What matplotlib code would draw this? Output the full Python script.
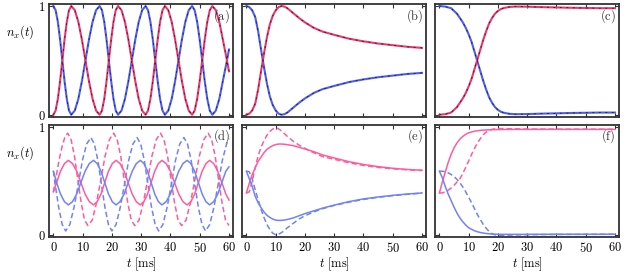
import matplotlib
matplotlib.use('Agg')
import matplotlib.pyplot as plt

plt.rcParams['mathtext.fontset'] = 'cm'
plt.rcParams['font.family'] = 'serif'

RED = '#e8386e'
BLUE = '#4d5ef0'
PINK = '#ff5c9d'
LBLUE = '#7282f7'

# ---- (a) oscillation, exact (solid) and approx (black dashes)
t_a = [0, 0.76, 1.53, 2.29, 3.05, 3.81, 4.58, 5.34, 6.1,
       7.31, 8.53, 9.74, 10.95, 12.16, 13.38, 14.59, 15.8,
       16.59, 17.38, 18.16, 18.95, 19.74, 20.53, 21.31, 22.1,
       23.28, 24.45, 25.63, 26.8, 27.98, 29.15, 30.33, 31.5,
       32.33, 33.15, 33.98, 34.8, 35.63, 36.45, 37.28, 38.1,
       39.26, 40.43, 41.59, 42.75, 43.91, 45.08, 46.24, 47.4,
       48.26, 49.13, 49.99, 50.85, 51.71, 52.58, 53.44, 54.3,
       55.5, 56.7, 57.9, 59.1, 60]
blue_a = [1, .962, .854, .691, .5, .309, .146, .038, 0,
          .038, .146, .309, .5, .691, .854, .962, 1,
          .962, .854, .691, .5, .309, .146, .038, 0,
          .038, .146, .309, .5, .691, .854, .962, 1,
          .962, .854, .691, .5, .309, .146, .038, 0,
          .038, .146, .309, .5, .691, .854, .962, 1,
          .962, .854, .691, .5, .309, .146, .038, 0,
          .038, .146, .309, .47, .6]
red_a = [0, .038, .146, .309, .5, .691, .854, .962, 1,
         .962, .854, .691, .5, .309, .146, .038, 0,
         .038, .146, .309, .5, .691, .854, .962, 1,
         .962, .854, .691, .5, .309, .146, .038, 0,
         .038, .146, .309, .5, .691, .854, .962, 1,
         .962, .854, .691, .5, .309, .146, .038, 0,
         .038, .146, .309, .5, .691, .854, .962, 1,
         .962, .854, .691, .53, .4]

# ---- (b)
t_b = [0, 1, 2, 3, 4, 5, 6, 7, 8, 9, 10, 11, 12, 13, 14, 16, 18, 20,
       23, 26, 30, 35, 40, 45, 50, 55, 60]
blue_b = [1.0, .99, .96, .9, .77, .6, .44, .29, .17, .09, .04, .01, 0.0,
          .005, .02, .065, .11, .15, .2, .235, .265, .3, .325, .345, .36,
          .375, .385]
red_b = [0.0, .01, .04, .1, .23, .4, .56, .71, .83, .91, .96, .99, 1.0,
         .995, .98, .935, .89, .85, .8, .765, .735, .7, .675, .655, .64,
         .625, .615]

# ---- (c)
t_c = [0, 2, 4, 6, 8, 9, 10, 11, 12, 13, 14, 15, 16, 17, 18, 19, 20,
       21, 22, 24, 26, 30, 35, 40, 45, 50, 55, 60]
blue_c = [1.0, .995, .98, .93, .85, .8, .74, .67, .58, .49, .4, .31, .23,
          .16, .11, .07, .045, .028, .018, .008, .005, .006, .01, .013,
          .016, .018, .02, .02]
red_c = [0.0, .005, .02, .07, .15, .2, .26, .33, .42, .51, .6, .69, .77,
         .84, .89, .93, .955, .972, .982, .992, .995, .994, .99, .987,
         .984, .982, .98, .98]

# ---- (d)
t_d_rd = [0, 1, 2, 3, 4, 4.9,
          6.05, 7.2, 8.35, 9.5, 10.65, 11.8,
          13.27, 14.73, 16.2, 17.67, 19.13, 20.6,
          21.8, 23.0, 24.2, 25.4, 26.6, 27.8,
          29.27, 30.73, 32.2, 33.67, 35.13, 36.6,
          37.8, 39.0, 40.2, 41.4, 42.6, 43.8,
          45.32, 46.83, 48.35, 49.87, 51.38, 52.9,
          54.08, 55.27, 56.45, 57.63, 58.82, 60]
red_d_dash = [0.40, 0.55, 0.70, 0.82, 0.91, 0.94,
              0.88, 0.73, 0.51, 0.30, 0.14, 0.09,
              0.14, 0.30, 0.51, 0.73, 0.88, 0.94,
              0.88, 0.73, 0.51, 0.30, 0.14, 0.09,
              0.14, 0.30, 0.51, 0.73, 0.88, 0.94,
              0.88, 0.73, 0.51, 0.30, 0.14, 0.09,
              0.14, 0.30, 0.51, 0.73, 0.88, 0.94,
              0.88, 0.73, 0.51, 0.30, 0.14, 0.09]
t_d_bd = [0, 0.6, 1.8, 3.0, 4.2,
          5.63, 7.07, 8.5, 9.93, 11.37, 12.8,
          14.0, 15.2, 16.4, 17.6, 18.8, 20.0,
          21.43, 22.87, 24.3, 25.73, 27.17, 28.6,
          29.83, 31.07, 32.3, 33.53, 34.77, 36.0,
          37.43, 38.87, 40.3, 41.73, 43.17, 44.6,
          45.83, 47.07, 48.3, 49.53, 50.77, 52.0,
          53.43, 54.87, 56.3, 57.73, 59.17, 60]
blue_d_dash = [0.59, 0.47, 0.26, 0.10, 0.04,
               0.10, 0.26, 0.47, 0.69, 0.84, 0.90,
               0.84, 0.69, 0.47, 0.26, 0.10, 0.04,
               0.10, 0.26, 0.47, 0.69, 0.84, 0.90,
               0.84, 0.69, 0.47, 0.26, 0.10, 0.04,
               0.10, 0.26, 0.47, 0.69, 0.84, 0.90,
               0.84, 0.69, 0.47, 0.26, 0.10, 0.04,
               0.10, 0.26, 0.47, 0.69, 0.84, 0.89]
t_d_sol = [0, 1.1, 2.43, 3.77, 5.1,
           6.53, 7.97, 9.4, 10.83, 12.27, 13.7,
           14.98, 16.27, 17.55, 18.83, 20.12, 21.4,
           22.78, 24.17, 25.55, 26.93, 28.32, 29.7,
           30.93, 32.17, 33.4, 34.63, 35.87, 37.1,
           38.53, 39.97, 41.4, 42.83, 44.27, 45.7,
           46.98, 48.27, 49.55, 50.83, 52.12, 53.4,
           54.78, 56.17, 57.55, 58.93, 60]
red_d_sol = [0.40, 0.485, 0.59, 0.66, 0.69,
             0.66, 0.59, 0.485, 0.38, 0.31, 0.28,
             0.31, 0.38, 0.485, 0.59, 0.66, 0.69,
             0.66, 0.59, 0.485, 0.38, 0.31, 0.28,
             0.31, 0.38, 0.485, 0.59, 0.66, 0.69,
             0.66, 0.59, 0.485, 0.38, 0.31, 0.28,
             0.31, 0.38, 0.485, 0.59, 0.66, 0.69,
             0.66, 0.59, 0.485, 0.38, 0.325]
blue_d_sol = [0.59, 0.485, 0.38, 0.31, 0.28,
              0.31, 0.38, 0.485, 0.59, 0.66, 0.69,
              0.66, 0.59, 0.485, 0.38, 0.31, 0.28,
              0.31, 0.38, 0.485, 0.59, 0.66, 0.69,
              0.66, 0.59, 0.485, 0.38, 0.31, 0.28,
              0.31, 0.38, 0.485, 0.59, 0.66, 0.69,
              0.66, 0.59, 0.485, 0.38, 0.31, 0.28,
              0.31, 0.38, 0.485, 0.59, 0.63]

# ---- (e)
t_e = [0, 1, 2, 3, 4, 5, 6, 7, 8, 9, 10, 11, 12, 13, 14, 16, 18, 20,
       23, 26, 30, 35, 40, 45, 50, 55, 60]
red_e_dash = [.39, .40, .5, .62, .73, .81, .87, .92, .955, .978, .99, .98,
              .96, .935, .91, .865, .83, .80, .76, .725, .70, .668, .643,
              .625, .612, .603, .597]
red_e_sol = [.39, .48, .56, .62, .68, .72, .76, .79, .81, .825, .835, .84,
             .84, .838, .834, .825, .81, .795, .77, .74, .712, .678, .652,
             .632, .617, .606, .599]
blue_e_dash = [.59, .585, .52, .42, .33, .24, .165, .1, .055, .02, .005,
               .01, .025, .045, .07, .11, .15, .18, .215, .245, .275, .305,
               .33, .35, .365, .378, .388]
blue_e_sol = [.59, .52, .45, .36, .30, .255, .215, .185, .165, .15, .14,
              .137, .138, .141, .146, .16, .18, .2, .225, .25, .278, .31,
              .335, .353, .368, .38, .39]

# ---- (f)
t_f = [0, 1, 2, 3, 4, 5, 6, 7, 8, 9, 10, 11, 12, 13, 14, 15, 16, 17, 18,
       19, 20, 22, 25, 30, 40, 50, 60]
red_f_sol = [.39, .49, .58, .67, .745, .805, .85, .885, .91, .93, .943,
             .951, .958, .962, .966, .968, .97, .971, .972, .973, .973,
             .974, .975, .975, .975, .975, .975]
red_f_dash = [.39, .39, .40, .415, .435, .46, .49, .52, .57, .625, .685,
              .745, .8, .85, .89, .925, .95, .965, .975, .98, .982, .982,
              .98, .978, .977, .977, .976]
blue_f_sol = [.59, .53, .45, .38, .32, .26, .205, .16, .125, .095, .07,
              .055, .042, .033, .026, .021, .017, .014, .012, .011, .01,
              .009, .009, .009, .01, .01, .01]
blue_f_dash = [.59, .59, .585, .575, .56, .54, .515, .485, .445, .4, .35,
               .3, .245, .19, .145, .1, .065, .035, .015, .005, .0, .0,
               .003, .006, .008, .009, .01]

panel_labels = ['(a)', '(b)', '(c)', '(d)', '(e)', '(f)']
x_ticks = [0, 10, 20, 30, 40, 50, 60]
y_ticks = [0, 1]

fig = plt.figure(figsize=(6.25, 2.72), dpi=100)
col_x = [0.0784, 0.3872, 0.696]
row_y = [0.571, 0.1276]
W, H = 0.295, 0.414

axes = []
for r in range(2):
    for c in range(3):
        ax = fig.add_axes([col_x[c], row_y[r], W, H])
        axes.append(ax)

# top row: solid colour with sparse black dashes on top
top = [(t_a, blue_a, red_a), (t_b, blue_b, red_b), (t_c, blue_c, red_c)]
for ax, (t, b, rr) in zip(axes[:3], top):
    ax.plot(t, b, color=BLUE, lw=1.5, solid_joinstyle='round')
    ax.plot(t, rr, color=RED, lw=1.5, solid_joinstyle='round')
    ax.plot(t, b, color='#1a1a1a', lw=0.55, dashes=(2.5, 6))
    ax.plot(t, rr, color='#1a1a1a', lw=0.55, dashes=(2.5, 6))

dash = (3.5, 2)
ax = axes[3]
ax.plot(t_d_rd, red_d_dash, color=PINK, lw=1.1, dashes=dash)
ax.plot(t_d_bd, blue_d_dash, color=LBLUE, lw=1.1, dashes=dash)
ax.plot(t_d_sol, red_d_sol, color=PINK, lw=1.1)
ax.plot(t_d_sol, blue_d_sol, color=LBLUE, lw=1.1)

ax = axes[4]
ax.plot(t_e, red_e_dash, color=PINK, lw=1.1, dashes=dash)
ax.plot(t_e, blue_e_dash, color=LBLUE, lw=1.1, dashes=dash)
ax.plot(t_e, red_e_sol, color=PINK, lw=1.1)
ax.plot(t_e, blue_e_sol, color=LBLUE, lw=1.1)

ax = axes[5]
ax.plot(t_f, red_f_dash, color=PINK, lw=1.1, dashes=dash)
ax.plot(t_f, blue_f_dash, color=LBLUE, lw=1.1, dashes=dash)
ax.plot(t_f, red_f_sol, color=PINK, lw=1.1)
ax.plot(t_f, blue_f_sol, color=LBLUE, lw=1.1)

for i, ax in enumerate(axes):
    ax.set_xlim(-1.5, 61.5)
    ax.set_ylim(-0.018, 1.018)
    ax.set_xticks(x_ticks)
    ax.set_yticks(y_ticks)
    ax.tick_params(direction='in', length=3, width=0.8, top=True,
                   right=True, labelsize=9, pad=2.5, color='#333333')
    for s in ax.spines.values():
        s.set_linewidth(1.3)
        s.set_color('#333333')
    if i >= 3:
        ax.set_xticklabels(['$%d$' % v for v in x_ticks])
        ax.set_xlabel(r'$t\ [\mathrm{ms}]$', fontsize=9, labelpad=0.5)
    else:
        ax.set_xticklabels([])
    if i % 3 == 0:
        ax.set_yticklabels(['$%d$' % v for v in y_ticks])
        ax.text(-0.154, 0.75, r'$n_x(t)$', transform=ax.transAxes,
                ha='center', va='center', fontsize=9)
    else:
        ax.set_yticklabels([])
    ax.text(0.937, 0.894, r'$\mathrm{%s}$' % panel_labels[i],
            transform=ax.transAxes, ha='center', va='center', fontsize=9,
            color='#333333')

fig.savefig('out.png', dpi=100)
